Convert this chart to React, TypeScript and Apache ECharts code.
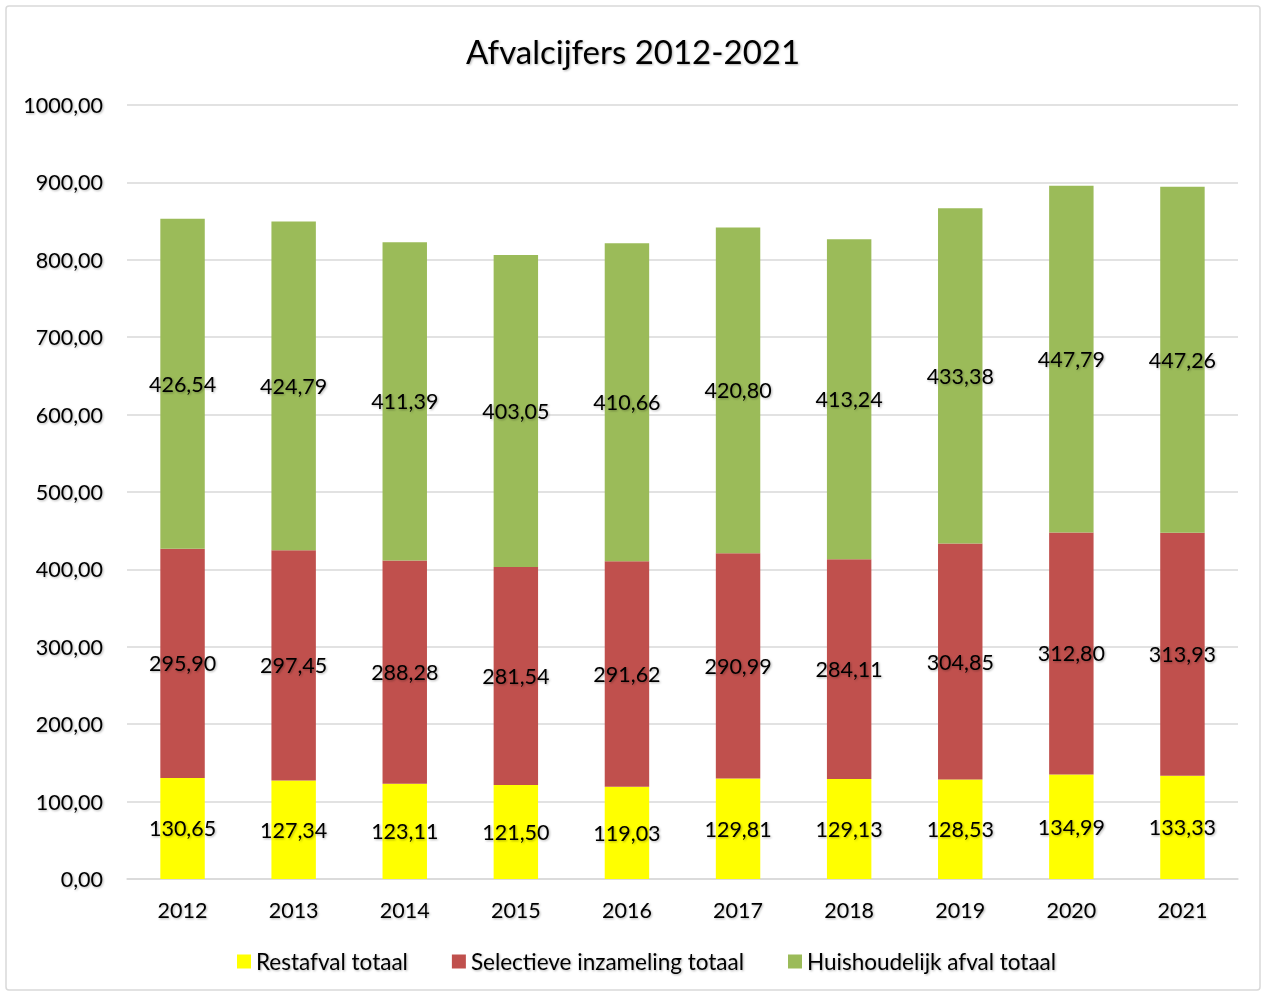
import React, { useEffect, useRef } from "react";
import * as echarts from "echarts";

const years = ["2012", "2013", "2014", "2015", "2016", "2017", "2018", "2019", "2020", "2021"];
const restafval = [130.65, 127.34, 123.11, 121.5, 119.03, 129.81, 129.13, 128.53, 134.99, 133.33];
const selectieve = [295.9, 297.45, 288.28, 281.54, 291.62, 290.99, 284.11, 304.85, 312.8, 313.93];
const huishoudelijk = [426.54, 424.79, 411.39, 403.05, 410.66, 420.8, 413.24, 433.38, 447.79, 447.26];
const seriesNames = ["Restafval totaal", "Selectieve inzameling totaal", "Huishoudelijk afval totaal"];

const FONT = "Lato, 'Noto Sans', sans-serif";
const fmt = (v: number) => v.toFixed(2).replace(".", ",");
const shadow = {
  textShadowColor: "rgba(0,0,0,0.3)",
  textShadowBlur: 2,
  textShadowOffsetX: 1,
  textShadowOffsetY: 1,
};

export default function App() {
  const ref = useRef<HTMLDivElement>(null);
  useEffect(() => {
    document.body.style.margin = "0";
    if (!ref.current) return;
    const chart = echarts.init(ref.current, null, { renderer: "svg" });
    const label = {
      show: true,
      position: "inside",
      color: "#000",
      fontSize: 21.5,
      fontFamily: FONT,
      ...shadow,
      formatter: (p: any) => fmt(p.value),
    };
    const mk = (name: string, data: number[], color: string) => ({
      name,
      type: "bar",
      stack: "total",
      data,
      barWidth: "40%",
      itemStyle: { color },
      label,
    });
    chart.setOption({
      animation: false,
      backgroundColor: "#fff",
      textStyle: { fontFamily: FONT },
      title: {
        text: "Afvalcijfers 2012-2021",
        left: "center",
        top: 29,
        textStyle: {
          fontSize: 33,
          fontWeight: "normal",
          color: "#000",
          fontFamily: FONT,
          ...shadow,
        },
      },
      graphic: [
        {
          type: "rect",
          shape: { x: 6, y: 6, width: 1254, height: 984, r: 3 },
          style: { fill: "none", stroke: "#d9d9d9", lineWidth: 1.5 },
          z: -1,
        },
      ],
      legend: {
        bottom: 17,
        left: 232,
        itemWidth: 14,
        itemHeight: 14,
        itemGap: 44,
        icon: "rect",
        textStyle: {
          fontSize: 22.5,
          color: "#000",
          fontFamily: FONT,
          ...shadow,
        },
        data: seriesNames,
      },
      grid: { left: 127, right: 28, top: 105, bottom: 116, containLabel: false },
      xAxis: {
        type: "category",
        data: years,
        axisLine: { lineStyle: { color: "#d9d9d9", width: 1.5 } },
        axisTick: { show: false },
        axisLabel: {
          fontSize: 21.5,
          color: "#000",
          margin: 20,
          fontFamily: FONT,
          ...shadow,
        },
      },
      yAxis: {
        type: "value",
        min: 0,
        max: 1000,
        interval: 100,
        axisLine: { show: false },
        axisTick: { show: false },
        splitLine: { lineStyle: { color: "#d9d9d9", width: 1.5 } },
        axisLabel: {
          fontSize: 21.5,
          color: "#000",
          margin: 24,
          fontFamily: FONT,
          formatter: (v: number) => fmt(v),
          ...shadow,
        },
      },
      series: [
        mk(seriesNames[0], restafval, "#FFFF00"),
        mk(seriesNames[1], selectieve, "#C0504D"),
        mk(seriesNames[2], huishoudelijk, "#9BBB59"),
      ],
    });
    return () => chart.dispose();
  }, []);
  return <div ref={ref} style={{ width: 1266, height: 995 }} />;
}
